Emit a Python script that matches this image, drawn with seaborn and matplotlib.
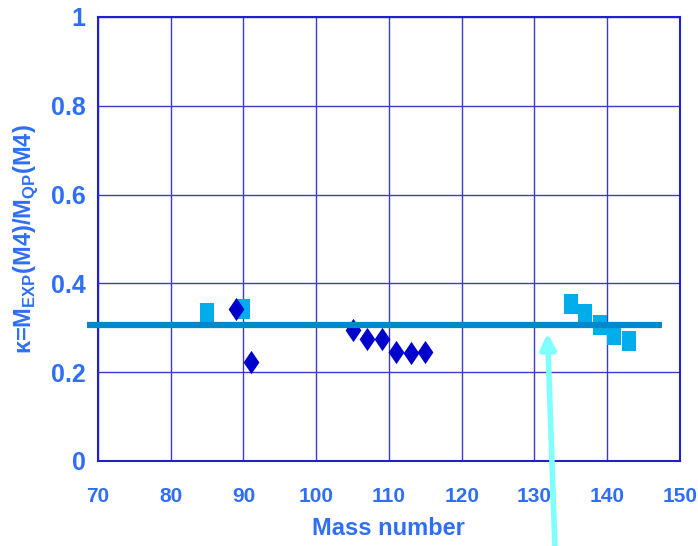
import matplotlib
matplotlib.use("Agg")
import matplotlib.pyplot as plt
import seaborn as sns
import pandas as pd

# Mass numbers and measured ratios
square_mass = [85, 90, 135, 137, 139, 141, 143]
square_kappa = [0.333, 0.343, 0.354, 0.330, 0.306, 0.283, 0.271]

diamond_mass = [89, 91, 105, 107, 109, 111, 113, 115]
diamond_kappa = [0.342, 0.222, 0.295, 0.275, 0.275, 0.246, 0.244, 0.246]

# Average quenching level
avg_x = [68.5, 147.5]
avg_y = [0.306, 0.306]

x_ticks = [70, 80, 90, 100, 110, 120, 130, 140, 150]
y_ticks = [0, 0.2, 0.4, 0.6, 0.8, 1]
y_tick_labels = ["0", "0.2", "0.4", "0.6", "0.8", "1"]

sns.set_style("white")
plt.rcParams["font.family"] = ["Liberation Sans", "DejaVu Sans"]
plt.rcParams["mathtext.fontset"] = "custom"
plt.rcParams["mathtext.rm"] = "Liberation Sans:bold"
plt.rcParams["mathtext.bf"] = "Liberation Sans:bold"

label_color = "#2f6ff5"
grid_color = "#3a3acc"

fig = plt.figure(figsize=(6.98, 5.46), dpi=100)
ax = fig.add_axes([0.1404, 0.1557, 0.974 - 0.1404, 0.9689 - 0.1557])

rect_marker = [(-0.65, -1), (0.65, -1), (0.65, 1), (-0.65, 1), (-0.65, -1)]
diam_marker = [(0, 1), (0.68, 0), (0, -1), (-0.68, 0), (0, 1)]

sq = pd.DataFrame({"mass": square_mass, "kappa": square_kappa})
dm = pd.DataFrame({"mass": diamond_mass, "kappa": diamond_kappa})

sns.scatterplot(data=sq, x="mass", y="kappa", marker=rect_marker, s=210,
                color="#00adeb", linewidth=0, ax=ax, zorder=3)
sns.scatterplot(data=dm, x="mass", y="kappa", marker=diam_marker, s=280,
                color="#0000cc", linewidth=0, ax=ax, zorder=4)

ax.plot(avg_x, avg_y, color="#0088cc", lw=4.5, solid_capstyle="butt",
        clip_on=False, zorder=5)

ax.set_xlim(70, 150)
ax.set_ylim(0, 1)
ax.set_xticks(x_ticks)
ax.set_yticks(y_ticks)
ax.set_yticklabels(y_tick_labels)
ax.grid(True, color=grid_color, lw=1.0)
ax.set_axisbelow(True)
for s in ax.spines.values():
    s.set_color("#2020cc")
    s.set_linewidth(1.5)
ax.tick_params(length=0, colors=label_color)
ax.tick_params(axis="y", labelsize=18, pad=9)
ax.tick_params(axis="x", labelsize=15, pad=19)
for t in ax.get_xticklabels() + ax.get_yticklabels():
    t.set_fontweight("bold")

ax.set_xlabel("Mass number", fontsize=17, color=label_color,
              fontweight="bold", labelpad=8)
ax.set_ylabel(r"κ=M$_{\mathrm{EXP}}$(M4)/M$_{\mathrm{QP}}$(M4)",
              fontsize=17, color=label_color, fontweight="bold", labelpad=8)

# Arrow pointing at the average line
ax.annotate("", xy=(131.8, 0.288), xycoords="data",
            xytext=(555 / 698, -0.005), textcoords="figure fraction",
            arrowprops=dict(arrowstyle="-|>,head_length=0.9,head_width=0.45",
                            color="#80ffff", lw=4, shrinkA=0, shrinkB=0),
            annotation_clip=False, zorder=6)

fig.savefig("out.png", dpi=100)
